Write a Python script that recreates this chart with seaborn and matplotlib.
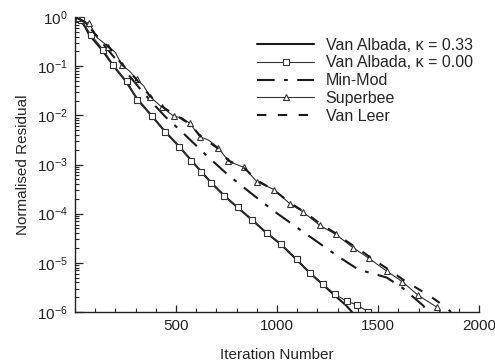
import numpy as np
import pandas as pd
import matplotlib
matplotlib.use("Agg")
import matplotlib.pyplot as plt
import seaborn as sns
from matplotlib.ticker import FixedLocator, MultipleLocator, NullFormatter

# ---- data (log10 of normalised residual vs iteration) ----
va033_it = [0, 15, 30, 50, 70, 134, 188, 252, 307, 380, 446, 515, 574, 624, 672, 738, 806,
            877, 950, 1018, 1098, 1163, 1226, 1287, 1340, 1371]
va033_lg = [0, -0.03, -0.08, -0.2, -0.36, -0.67, -0.98, -1.31, -1.66, -2.01, -2.33, -2.63, -2.91,
            -3.14, -3.36, -3.63, -3.88, -4.13, -4.40, -4.62, -4.94, -5.21, -5.44, -5.67, -5.86, -6.0]

va000_it = [0, 30, 79, 139, 188, 256, 307, 380, 446, 515, 574, 624, 672, 738, 806,
            877, 950, 1018, 1098, 1163, 1226, 1287, 1344, 1397, 1452]
va000_lg = [0, -0.06, -0.36, -0.66, -0.97, -1.31, -1.68, -2.02, -2.34, -2.64, -2.92, -3.15, -3.37,
            -3.64, -3.87, -4.12, -4.39, -4.61, -4.93, -5.20, -5.43, -5.64, -5.78, -5.86, -6.0]

mm_it = [0, 50, 100, 150, 200, 260, 320, 386, 450, 520, 644, 757, 876, 982, 1129, 1302, 1396,
         1440, 1477, 1510, 1543, 1624, 1723, 1745]
mm_lg = [0, -0.1, -0.35, -0.6, -0.85, -1.15, -1.45, -1.76, -2.04, -2.30, -2.79, -3.21, -3.60, -3.94,
         -4.37, -4.87, -5.12, -5.18, -5.22, -5.26, -5.30, -5.52, -5.87, -6.0]

sb_it = [0, 15, 40, 70, 110, 165, 200, 231, 270, 307, 340, 371, 429, 490, 530, 568, 619, 660,
         710, 759, 800, 837, 900, 985, 1064, 1127, 1212, 1290, 1376, 1455, 1543, 1619, 1698, 1790, 1808]
sb_lg = [0, -0.02, -0.1, -0.12, -0.42, -0.6, -0.72, -0.97, -1.1, -1.27, -1.4, -1.62, -1.83, -2.02,
         -2.05, -2.16, -2.44, -2.5, -2.66, -2.93, -3.0, -3.06, -3.35, -3.51, -3.80, -3.96, -4.24,
         -4.42, -4.69, -4.91, -5.17, -5.38, -5.66, -5.90, -6.0]
sb_mark = [0, 1, 3, 5, 7, 9, 11, 12, 13, 15, 16, 18, 19, 21, 22, 23, 24, 25, 26, 27, 28, 29,
           30, 31, 32, 33]

vl_it = [0, 50, 100, 170, 230, 300, 370, 430, 500, 570, 620, 710, 760, 840, 900, 985, 1064, 1130,
         1212, 1290, 1351, 1421, 1475, 1550, 1619, 1698, 1772, 1841, 1860]
vl_lg = [0, -0.1, -0.35, -0.62, -0.95, -1.25, -1.6, -1.82, -2.0, -2.18, -2.42, -2.68, -2.92, -3.08,
         -3.32, -3.52, -3.78, -3.95, -4.2, -4.4, -4.58, -4.77, -4.93, -5.13, -5.33, -5.53, -5.72,
         -5.92, -6.0]

labels = ["Van Albada, \u03ba = 0.33", "Van Albada, \u03ba = 0.00", "Min-Mod", "Superbee", "Van Leer"]
xticks = [500, 1000, 1500, 2000]
yticks = [1e-6, 1e-5, 1e-4, 1e-3, 1e-2, 1e-1, 1e0]

sns.set_theme(style="white")
plt.rcParams["font.family"] = ["Liberation Sans", "DejaVu Sans"]
plt.rcParams["mathtext.fontset"] = "custom"
plt.rcParams["mathtext.rm"] = "Liberation Sans"
plt.rcParams["mathtext.it"] = "Liberation Sans"

fig = plt.figure(figsize=(4.95, 3.63), dpi=100)
ax = fig.add_axes([0.1515, 0.1405, 0.8165, 0.8125])

def frame(it, lg):
    return pd.DataFrame({"it": it, "res": 10.0 ** np.array(lg)})

ink = "#1a1a1a"
sns.lineplot(data=frame(va033_it, va033_lg), x="it", y="res", ax=ax, color=ink, lw=1.5,
             label=labels[0], sort=False, estimator=None)
sns.lineplot(data=frame(va000_it, va000_lg), x="it", y="res", ax=ax, color="#333333", lw=0.8,
             marker="s", markersize=4, markerfacecolor="white", markeredgecolor="#333333",
             markeredgewidth=0.8, label=labels[1], sort=False, estimator=None)
sns.lineplot(data=frame(mm_it, mm_lg), x="it", y="res", ax=ax, color=ink, lw=1.5,
             dashes=False, label=labels[2], sort=False, estimator=None)
ax.lines[-1].set_dashes((8.5, 4.5, 1.8, 4.5))
sns.lineplot(data=frame(sb_it, sb_lg), x="it", y="res", ax=ax, color="#333333", lw=0.8,
             marker="^", markersize=5, markerfacecolor="white", markeredgecolor="#333333",
             markeredgewidth=0.8, markevery=sb_mark, label=labels[3], sort=False, estimator=None)
sns.lineplot(data=frame(vl_it, vl_lg), x="it", y="res", ax=ax, color=ink, lw=1.5,
             label=labels[4], sort=False, estimator=None)
ax.lines[-1].set_dashes((4.5, 5.5))

ax.set_yscale("log")
ax.set_xlim(0, 2000)
ax.set_ylim(1e-6, 1.0)
ax.xaxis.set_major_locator(FixedLocator(xticks))
ax.xaxis.set_minor_locator(MultipleLocator(100))
ax.yaxis.set_major_locator(FixedLocator(yticks))
minor_y = [m * 10.0 ** e for e in range(-6, 0) for m in range(2, 10)]
ax.yaxis.set_minor_locator(FixedLocator(minor_y))
ax.yaxis.set_minor_formatter(NullFormatter())
ax.tick_params(axis="both", which="major", direction="in", length=5, width=0.9,
               labelsize=11, colors="#222222", pad=5)
ax.tick_params(axis="both", which="minor", direction="in", length=3, width=0.8)
ax.tick_params(axis="y", which="major", length=6)
ax.tick_params(bottom=True, left=True, which="both")
for s in ["top", "right"]:
    ax.spines[s].set_visible(False)
for s in ["left", "bottom"]:
    ax.spines[s].set_color("#222222")
    ax.spines[s].set_linewidth(1.0)

ax.set_xlabel("Iteration Number", fontsize=11, labelpad=11)
ax.set_ylabel("Normalised Residual", fontsize=11, labelpad=5)

leg = ax.legend(loc="upper left", bbox_to_anchor=(0.45, 0.93), frameon=False, fontsize=11.5,
                handlelength=3.6, handletextpad=0.7, labelspacing=0.17, borderaxespad=0,
                borderpad=0, numpoints=1)
for h in leg.get_lines():
    if len(h.get_xdata()) == 3:
        h.set_markevery([1])

fig.savefig("out.png", dpi=100)
